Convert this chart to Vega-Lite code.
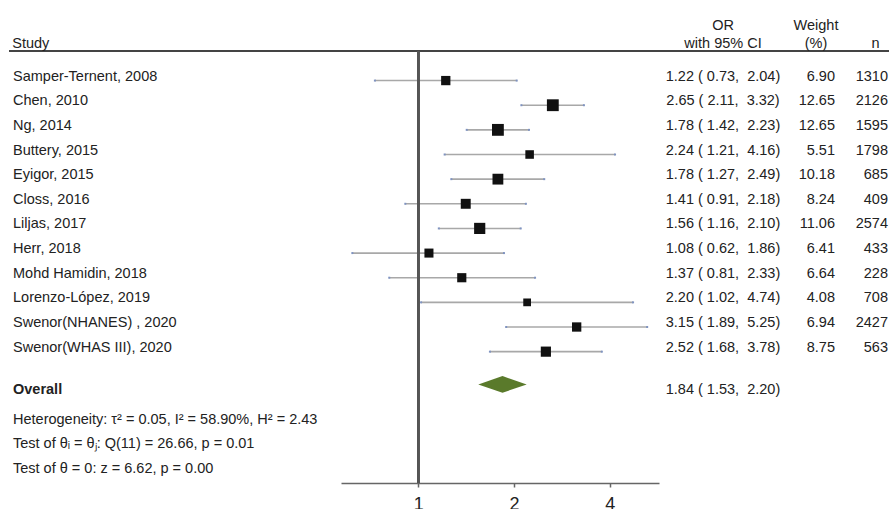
{
  "$schema": "https://vega.github.io/schema/vega-lite/v6.json",
  "padding": {"left": 8, "top": 18, "right": 0, "bottom": 0},
  "spacing": 0,
  "bounds": "flush",
  "background": "white",
  "datasets": {
    "studies": [
      {"row": 1, "study": "Samper-Ternent, 2008", "or": 1.22, "lo": 0.73, "hi": 2.04, "weight": 6.90, "n": 1310},
      {"row": 2, "study": "Chen, 2010", "or": 2.65, "lo": 2.11, "hi": 3.32, "weight": 12.65, "n": 2126},
      {"row": 3, "study": "Ng, 2014", "or": 1.78, "lo": 1.42, "hi": 2.23, "weight": 12.65, "n": 1595},
      {"row": 4, "study": "Buttery, 2015", "or": 2.24, "lo": 1.21, "hi": 4.16, "weight": 5.51, "n": 1798},
      {"row": 5, "study": "Eyigor, 2015", "or": 1.78, "lo": 1.27, "hi": 2.49, "weight": 10.18, "n": 685},
      {"row": 6, "study": "Closs, 2016", "or": 1.41, "lo": 0.91, "hi": 2.18, "weight": 8.24, "n": 409},
      {"row": 7, "study": "Liljas, 2017", "or": 1.56, "lo": 1.16, "hi": 2.10, "weight": 11.06, "n": 2574},
      {"row": 8, "study": "Herr, 2018", "or": 1.08, "lo": 0.62, "hi": 1.86, "weight": 6.41, "n": 433},
      {"row": 9, "study": "Mohd Hamidin, 2018", "or": 1.37, "lo": 0.81, "hi": 2.33, "weight": 6.64, "n": 228},
      {"row": 10, "study": "Lorenzo-López, 2019", "or": 2.20, "lo": 1.02, "hi": 4.74, "weight": 4.08, "n": 708},
      {"row": 11, "study": "Swenor(NHANES) , 2020", "or": 3.15, "lo": 1.89, "hi": 5.25, "weight": 6.94, "n": 2427},
      {"row": 12, "study": "Swenor(WHAS III), 2020", "or": 2.52, "lo": 1.68, "hi": 3.78, "weight": 8.75, "n": 563}
    ],
    "overall": [
      {"row": 13.33, "study": "Overall", "or": 1.84, "lo": 1.53, "hi": 2.20}
    ],
    "stats": [
      {"row": 15, "text": "Heterogeneity: τ² = 0.05, I² = 58.90%, H² = 2.43"},
      {"row": 16, "text": "Test of θᵢ = θⱼ: Q(11) = 26.66, p = 0.01"},
      {"row": 17, "text": "Test of θ = 0: z = 6.62, p = 0.00"}
    ]
  },
  "hconcat": [
    {
      "width": 332,
      "height": 432,
      "title": {"text": "Study", "anchor": "start", "dx": 4},
      "layer": [
        {
          "data": {"name": "studies"},
          "mark": {"type": "rule", "color": "#444", "strokeWidth": 1.5},
          "encoding": {"y": {"datum": -0.2, "type": "quantitative", "scale": {"domain": [-0.2, 17.33], "nice": false, "zero": false, "reverse": true}, "axis": null}}
        },
        {
          "data": {"name": "studies"},
          "mark": {"type": "text", "align": "left", "baseline": "alphabetic", "dx": 4, "fontSize": 14.5, "color": "#222"},
          "encoding": {
            "x": {"datum": "Study", "type": "nominal", "scale": {"type": "point", "align": 0, "padding": 0}, "axis": null},
            "y": {"field": "row", "type": "quantitative"},
            "text": {"field": "study"}
          }
        },
        {
          "data": {"name": "overall"},
          "mark": {"type": "text", "align": "left", "baseline": "alphabetic", "dx": 4, "dy": 10, "fontSize": 14.5, "fontWeight": "bold", "color": "#222"},
          "encoding": {
            "x": {"datum": "Study", "type": "nominal"},
            "y": {"field": "row", "type": "quantitative"},
            "text": {"field": "study"}
          }
        },
        {
          "data": {"name": "stats"},
          "mark": {"type": "text", "align": "left", "baseline": "alphabetic", "dx": 4, "dy": -2, "fontSize": 14.5, "color": "#222"},
          "encoding": {
            "x": {"datum": "Study", "type": "nominal"},
            "y": {"field": "row", "type": "quantitative"},
            "text": {"field": "text"}
          }
        }
      ]
    },
    {
      "width": 318,
      "height": 432,
      "layer": [
        {
          "data": {"name": "studies"},
          "mark": {"type": "rule", "color": "#444", "strokeWidth": 1.5},
          "encoding": {"y": {"datum": -0.2, "type": "quantitative", "scale": {"domain": [-0.2, 17.33], "nice": false, "zero": false, "reverse": true}, "axis": null}}
        },
        {
          "data": {"name": "studies"},
          "mark": {"type": "rule", "color": "#a8a8a8", "strokeWidth": 1.6},
          "encoding": {
            "x": {"field": "lo", "type": "quantitative", "scale": {"type": "log", "base": 2, "domain": [0.571, 5.72], "nice": false}, "axis": {"values": [1, 2, 4], "format": "~g", "title": null, "grid": false, "domainColor": "#666", "domainWidth": 1.5, "tickColor": "#666", "tickWidth": 1.5, "tickSize": 4, "labelFontSize": 18, "labelColor": "#222", "labelPadding": 8, "labelFont": "Liberation Sans"}},
            "x2": {"field": "hi"},
            "y": {"field": "row", "type": "quantitative"}
          }
        },
        {
          "data": {"name": "studies"},
          "mark": {"type": "point", "shape": "square", "filled": true, "size": 4, "color": "#7f93c0", "opacity": 1},
          "encoding": {"x": {"field": "lo", "type": "quantitative"}, "y": {"field": "row", "type": "quantitative"}}
        },
        {
          "data": {"name": "studies"},
          "mark": {"type": "point", "shape": "square", "filled": true, "size": 4, "color": "#7f93c0", "opacity": 1},
          "encoding": {"x": {"field": "hi", "type": "quantitative"}, "y": {"field": "row", "type": "quantitative"}}
        },
        {
          "data": {"name": "studies"},
          "mark": {"type": "rule", "color": "#555", "strokeWidth": 1.8},
          "encoding": {"x": {"datum": 1, "type": "quantitative"}}
        },
        {
          "data": {"name": "studies"},
          "mark": {"type": "point", "shape": "square", "filled": true, "color": "#111", "opacity": 1},
          "encoding": {
            "x": {"field": "or", "type": "quantitative"},
            "y": {"field": "row", "type": "quantitative"},
            "size": {"field": "weight", "type": "quantitative", "scale": {"type": "linear", "zero": false, "domain": [4.08, 12.65], "range": [60, 140]}, "legend": null}
          }
        },
        {
          "data": {"name": "overall"},
          "mark": {"type": "point", "shape": "M-1,0L0,-0.345L1,0L0,0.345Z", "filled": true, "color": "#5a7a2b", "opacity": 1, "size": 2343},
          "encoding": {
            "x": {"field": "or", "type": "quantitative"},
            "y": {"field": "row", "type": "quantitative"}
          }
        }
      ]
    },
    {
      "width": 128,
      "height": 432,
      "title": {"text": ["OR", "with 95% CI"], "anchor": "middle"},
      "layer": [
        {
          "data": {"name": "studies"},
          "mark": {"type": "rule", "color": "#444", "strokeWidth": 1.5},
          "encoding": {"y": {"datum": -0.2, "type": "quantitative", "scale": {"domain": [-0.2, 17.33], "nice": false, "zero": false, "reverse": true}, "axis": null}}
        },
        {
          "data": {"name": "studies"},
          "transform": [{"calculate": "format(datum.or, '.2f') + ' ( ' + format(datum.lo, '.2f') + ',\u00a0 ' + format(datum.hi, '.2f') + ')'", "as": "ci"}],
          "mark": {"type": "text", "align": "center", "baseline": "alphabetic", "fontSize": 14.5, "color": "#222"},
          "encoding": {
            "x": {"datum": "OR", "type": "nominal", "scale": {"type": "point", "align": 0.5}, "axis": null},
            "y": {"field": "row", "type": "quantitative"},
            "text": {"field": "ci"}
          }
        },
        {
          "data": {"name": "overall"},
          "transform": [{"calculate": "format(datum.or, '.2f') + ' ( ' + format(datum.lo, '.2f') + ',\u00a0 ' + format(datum.hi, '.2f') + ')'", "as": "ci"}],
          "mark": {"type": "text", "align": "center", "baseline": "alphabetic", "dy": 10, "fontSize": 14.5, "color": "#222"},
          "encoding": {
            "x": {"datum": "OR", "type": "nominal"},
            "y": {"field": "row", "type": "quantitative"},
            "text": {"field": "ci"}
          }
        }
      ]
    },
    {
      "width": 48,
      "height": 432,
      "title": {"text": ["Weight", "(%)"], "anchor": "middle", "dx": 5},
      "layer": [
        {
          "data": {"name": "studies"},
          "mark": {"type": "rule", "color": "#444", "strokeWidth": 1.5},
          "encoding": {"y": {"datum": -0.2, "type": "quantitative", "scale": {"domain": [-0.2, 17.33], "nice": false, "zero": false, "reverse": true}, "axis": null}}
        },
        {
          "data": {"name": "studies"},
          "mark": {"type": "text", "align": "right", "baseline": "alphabetic", "fontSize": 14.5, "color": "#222"},
          "encoding": {
            "x": {"datum": "Weight", "type": "nominal", "scale": {"type": "point", "align": 1, "padding": 0}, "axis": null},
            "y": {"field": "row", "type": "quantitative"},
            "text": {"field": "weight", "type": "quantitative", "format": ".2f"}
          }
        }
      ]
    },
    {
      "width": 55,
      "height": 432,
      "title": {"text": "n", "anchor": "middle", "dx": 13},
      "layer": [
        {
          "data": {"name": "studies"},
          "mark": {"type": "rule", "color": "#444", "strokeWidth": 1.5},
          "encoding": {"y": {"datum": -0.2, "type": "quantitative", "scale": {"domain": [-0.2, 17.33], "nice": false, "zero": false, "reverse": true}, "axis": null}}
        },
        {
          "data": {"name": "studies"},
          "mark": {"type": "text", "align": "right", "baseline": "alphabetic", "dx": -2, "fontSize": 14.5, "color": "#222"},
          "encoding": {
            "x": {"datum": "n", "type": "nominal", "scale": {"type": "point", "align": 1, "padding": 0}, "axis": null},
            "y": {"field": "row", "type": "quantitative"},
            "text": {"field": "n", "type": "quantitative", "format": "d"}
          }
        }
      ]
    }
  ],
  "config": {
    "font": "Liberation Sans",
    "view": {"stroke": null},
    "title": {"fontSize": 14.5, "fontWeight": "normal", "color": "#222", "lineHeight": 17.7, "offset": -1, "font": "Liberation Sans"}
  }
}
